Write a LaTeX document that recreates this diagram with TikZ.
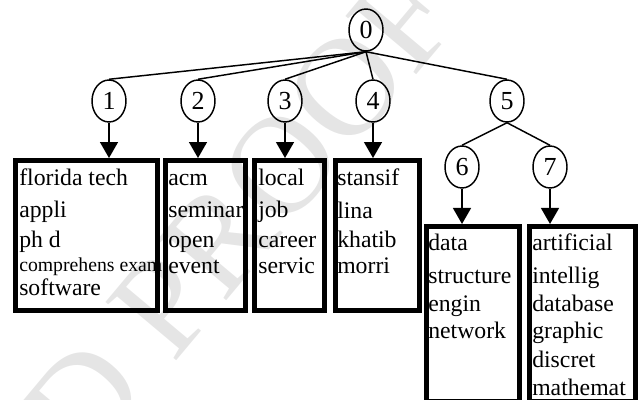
\documentclass[tikz,border=0pt]{standalone}
\usepackage{fontspec}
\setmainfont{Liberation Serif}
\usetikzlibrary{arrows.meta,shapes.geometric}

\begin{document}
\begin{tikzpicture}[x=0.75pt,y=-0.75pt,
  num/.style={ellipse, draw, line width=1.1pt, minimum width=25.5pt,
    minimum height=31.5pt, inner sep=0pt, font=\fontsize{19.5}{20}\selectfont},
  link/.style={line width=1.1pt},
  down/.style={line width=1.1pt, -{Triangle[width=13.5pt,length=12pt]}},
  box/.style={draw, line width=3.75pt, rectangle, inner sep=0pt},
  word/.style={anchor=base west, inner sep=0pt, font=\fontsize{17.8}{20}\selectfont},
  small/.style={word, font=\fontsize{14.8}{16}\selectfont},
  wmark/.style={text=gray!20, inner sep=0pt, font=\fontsize{105}{105}\selectfont}
]
\useasboundingbox (0,0) rectangle (641,399);
\clip (0,0) rectangle (641,399);

% background watermark
\node[wmark, rotate=50] (wm) at (284,162) {PROOF};
\node[wmark, rotate=50, anchor=base east] (wm2) at (wm.base west) {UNCORRECTED\hspace*{0.25em}};

% tree nodes
\node[num] (n0) at (366,30) {0};
\node[num] (n1) at (109,101) {1};
\node[num] (n2) at (198,101) {2};
\node[num] (n3) at (285,101) {3};
\node[num] (n4) at (373,101) {4};
\node[num] (n5) at (507,101) {5};
\node[num] (n6) at (462,167) {6};
\node[num] (n7) at (550,167) {7};

% term boxes
\node[box, minimum width=106.5pt, minimum height=112.5pt] (b1) at (86.5,235.5) {};
\node[box, minimum width=60pt,    minimum height=112.5pt] (b2) at (205.5,235.5) {};
\node[box, minimum width=52.5pt,  minimum height=112.5pt] (b3) at (289.5,235.5) {};
\node[box, minimum width=63pt,    minimum height=112.5pt] (b4) at (377.5,235.5) {};
\node[box, minimum width=69.75pt, minimum height=131pt] (b6) at (473,313.8) {};
\node[box, minimum width=79.5pt,  minimum height=131pt] (b7) at (582.5,313.8) {};

% tree edges
\foreach \c in {n1,n2,n3,n4,n5} \draw[link] (n0.south) -- (\c.north);
\draw[link] (n5.south) -- (n6.north);
\draw[link] (n5.south) -- (n7.north);

% arrows to boxes
\draw[down] (n1.south) -- (n1.south |- b1.north);
\draw[down] (n2.south) -- (n2.south |- b2.north);
\draw[down] (n3.south) -- (n3.south |- b3.north);
\draw[down] (n4.south) -- (n4.south |- b4.north);
\draw[down] (n6.south) -- (n6.south |- b6.north);
\draw[down] (n7.south) -- (n7.south |- b7.north);

% box 1
\node[word]  (t1a) at (19,185) {florida tech};
\node[word]  (t1b) at (19,217) {appli};
\node[word]  (t1c) at (19,247) {ph d};
\node[small] (t1d) at (19,271) {comprehens exam};
\node[word]  (t1e) at (19,295.5) {software};
% box 2
\node[word] (t2a) at (168,185) {acm};
\node[word] (t2b) at (168,217) {seminar};
\node[word] (t2c) at (168,247) {open};
\node[word] (t2d) at (168,273) {event};
% box 3
\node[word] (t3a) at (258,185) {local};
\node[word] (t3b) at (258,217) {job};
\node[word] (t3c) at (258,247) {career};
\node[word] (t3d) at (258,273) {servic};
% box 4
\node[word] (t4a) at (337,185) {stansif};
\node[word] (t4b) at (337,218) {lina};
\node[word] (t4c) at (337,247) {khatib};
\node[word] (t4d) at (337,273) {morri};
% box 6
\node[word] (t6a) at (428,250) {data};
\node[word] (t6b) at (428,283) {structure};
\node[word] (t6c) at (428,311) {engin};
\node[word] (t6d) at (428,338) {network};
% box 7
\node[word] (t7a) at (532,250) {artificial};
\node[word] (t7b) at (532,283) {intellig};
\node[word] (t7c) at (532,311) {database};
\node[word] (t7d) at (532,338) {graphic};
\node[word] (t7e) at (532,367) {discret};
\node[word] (t7f) at (532,395) {mathemat};
\end{tikzpicture}
\end{document}
